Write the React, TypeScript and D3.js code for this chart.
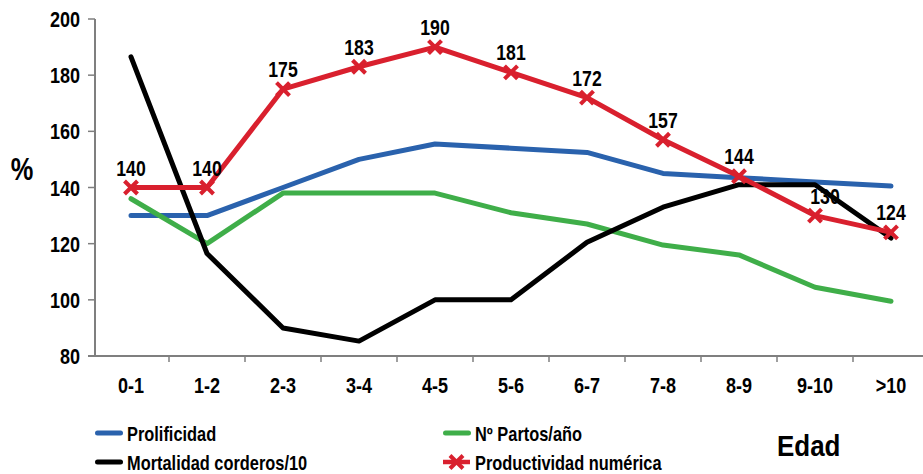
import React from "react";
import * as d3 from "d3";

const categories = ["0-1", "1-2", "2-3", "3-4", "4-5", "5-6", "6-7", "7-8", "8-9", "9-10", ">10"];
const prolificidad = [130, 130, 140, 150, 155.5, 154, 152.5, 145, 143.5, 142, 140.5];
const partos = [136, 120, 138, 138, 138, 131, 127, 119.5, 116, 104.5, 99.5];
const mortalidad = [186.5, 116.5, 90, 85.3, 100, 100, 120.5, 133, 141, 141, 122];
const productividad = [140, 140, 175, 183, 190, 181, 172, 157, 144, 130, 124];
const yTicks = [80, 100, 120, 140, 160, 180, 200];

const W = 923;
const H = 474;
const FONT = "'Liberation Sans', Arial, sans-serif";
const NARROW = 0.82;

const x = d3.scaleBand<string>().domain(categories).range([93, 929]);
const y = d3.scaleLinear().domain([80, 200]).range([356, 19]);
const cx = (c: string) => (x(c) as number) + x.bandwidth() / 2;

const line = d3
  .line<number>()
  .x((_, i) => cx(categories[i]))
  .y((d) => y(d));

const series = [
  { name: "Prolificidad", values: prolificidad, color: "#2a62ad" },
  { name: "Nº Partos/año", values: partos, color: "#3fae49" },
  { name: "Mortalidad corderos/10", values: mortalidad, color: "#000000" },
  { name: "Productividad numérica", values: productividad, color: "#d9202e" },
];

// Bold condensed label: horizontally compressed sans text
const NText = ({
  x: tx,
  y: ty,
  size,
  anchor = "start",
  sx = NARROW,
  children,
}: {
  x: number;
  y: number;
  size: number;
  anchor?: "start" | "middle" | "end";
  sx?: number;
  children: React.ReactNode;
}) => (
  <text
    transform={`translate(${tx},${ty}) scale(${sx},1)`}
    textAnchor={anchor}
    fontSize={size}
    fontWeight="bold"
    fill="#000"
  >
    {children}
  </text>
);

const Cross = ({ px, py, color, s = 6.5 }: { px: number; py: number; color: string; s?: number }) => (
  <g stroke={color} strokeWidth={4}>
    <line x1={px - s} y1={py - s} x2={px + s} y2={py + s} />
    <line x1={px - s} y1={py + s} x2={px + s} y2={py - s} />
  </g>
);

export default function App() {
  const axisColor = "#7f7f7f";
  const red = series[3];
  return (
    <svg
      width={W}
      height={H}
      style={{ position: "absolute", left: 0, top: 0, background: "#fff" }}
      fontFamily={FONT}
    >
      {/* Y axis */}
      <line x1={95} y1={y(200)} x2={95} y2={y(80)} stroke={axisColor} strokeWidth={2} />
      {yTicks.map((t) => (
        <g key={t}>
          <line x1={88} x2={95} y1={y(t)} y2={y(t)} stroke={axisColor} strokeWidth={1.5} />
          <NText x={80} y={y(t) + 8} size={22} anchor="end">
            {t}
          </NText>
        </g>
      ))}
      <NText x={22} y={180} size={31} anchor="middle">
        %
      </NText>

      {/* X axis */}
      <line x1={88} x2={W} y1={y(80)} y2={y(80)} stroke={axisColor} strokeWidth={2} />
      {categories.map((c, i) => (
        <g key={c}>
          {i > 0 && (
            <line
              x1={x(c) as number}
              x2={x(c) as number}
              y1={y(80)}
              y2={y(80) + 6}
              stroke={axisColor}
              strokeWidth={1.5}
            />
          )}
          <NText x={cx(c)} y={393} size={22} anchor="middle">
            {c}
          </NText>
        </g>
      ))}

      {/* Series lines */}
      {series.map((s) => (
        <path
          key={s.name}
          d={line(s.values) as string}
          fill="none"
          stroke={s.color}
          strokeWidth={5}
          strokeLinecap="round"
          strokeLinejoin="round"
        />
      ))}

      {/* Markers and value labels for productividad */}
      {red.values.map((v, i) => (
        <g key={i}>
          <Cross px={cx(categories[i])} py={y(v)} color={red.color} />
          <NText x={cx(categories[i]) + (i === 9 ? 10 : 0)} y={y(v) - 12} size={21.5} anchor="middle">
            {v}
          </NText>
        </g>
      ))}

      {/* Legend */}
      {[
        { s: series[0], lx: 95, ly: 433 },
        { s: series[1], lx: 443, ly: 433 },
        { s: series[2], lx: 95, ly: 462 },
        { s: series[3], lx: 443, ly: 462 },
      ].map(({ s, lx, ly }) => (
        <g key={s.name}>
          {s === red ? (
            <>
              <line x1={lx} x2={lx + 27} y1={ly} y2={ly} stroke={s.color} strokeWidth={4.5} />
              <Cross px={lx + 13.5} py={ly} color={s.color} s={6.5} />
            </>
          ) : (
            <line
              x1={lx + 2.5}
              x2={lx + 25.5}
              y1={ly}
              y2={ly}
              stroke={s.color}
              strokeWidth={5}
              strokeLinecap="round"
            />
          )}
          <NText x={lx + 32} y={ly + 7.5} size={20}>
            {s.name}
          </NText>
        </g>
      ))}
      <NText x={777} y={456} size={29.5} sx={0.88}>
        Edad
      </NText>
    </svg>
  );
}
